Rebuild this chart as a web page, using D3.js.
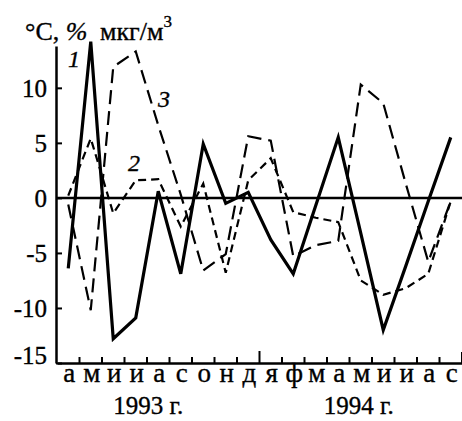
<!DOCTYPE html>
<html>
<head>
<meta charset="utf-8">
<script src="https://cdn.jsdelivr.net/npm/d3@7"></script>
<style>
  body { margin: 0; background: #fff; }
  svg text { stroke: #000; stroke-width: 0.35px; }
</style>
</head>
<body>
<svg id="chart" width="462" height="421" font-family="Liberation Serif, Times New Roman, serif"></svg>
<script>
// months from April 1993 to September 1994
const months = ["а","м","и","и","а","с","о","н","д","я","ф","м","а","м","и","и","а","с"];
const years = ["1993 г.", "1994 г."];
const yTicks = [10, 5, 0, -5, -10, -15];

// 1 - solid, 2 - short dashes, 3 - long dashes
const series1 = [-6.4, 14.2, -12.8, -10.9, 0.6, -6.9, 4.9, -0.5, 0.5, -3.8, -6.9, -0.7, 5.5, -3.2, -12.0, -6.2, -0.3, 5.5];
const series2 = [0.2, 5.4, -1.4, 1.6, 1.7, -2.6, 1.3, -6.8, 1.6, 3.6, -1.3, -1.8, -2.2, -7.5, -8.8, -8.2, -6.9, -0.3];
const series3 = [-0.6, -10.2, 11.9, 13.3, 6.6, 0.3, -6.6, -5.1, 5.6, 5.2, -5.3, -4.3, -3.9, 10.3, 8.6, 1.3, -5.8, -0.3];

const FONT = "Liberation Serif, Times New Roman, serif";
const svg = d3.select("#chart");

const x = d3.scaleBand()
    .domain(d3.range(months.length))
    .range([57, 462]);

const y = d3.scaleLinear()
    .domain([-15, 13.8])
    .range([363, 46]);

const cx = i => x(i) + x.bandwidth() / 2;

// y axis, ticks pointing inside
const yAxis = d3.axisLeft(y)
    .tickValues(yTicks)
    .tickSizeInner(-6)
    .tickSizeOuter(0)
    .tickPadding(9)
    .tickFormat(d => String(d));

const gy = svg.append("g")
    .attr("transform", "translate(56,0)")
    .call(yAxis)
    .attr("font-family", FONT)
    .attr("font-size", 25);
gy.select(".domain").attr("stroke-width", 2.5);
gy.selectAll(".tick line").attr("stroke-width", 2);
gy.selectAll(".tick text")
    .attr("dy", d => d === -15 ? "0em" : "0.34em");

// x axis: month letters at band centres
const xAxis = d3.axisBottom(x)
    .tickSizeInner(0)
    .tickSizeOuter(0)
    .tickPadding(5)
    .tickFormat(i => months[i]);

const gx = svg.append("g")
    .attr("transform", "translate(0,363)")
    .call(xAxis)
    .attr("font-family", FONT)
    .attr("font-size", 27);
gx.select(".domain").attr("stroke-width", 2.5);
gx.selectAll(".tick text")
    .attr("x", 1)
    .attr("dy", "0.5em");

// boundary ticks between months, taller at the year change and the end
svg.append("g")
  .selectAll("line")
  .data(d3.range(1, months.length + 1))
  .join("line")
    .attr("x1", i => x(i - 1) + x.bandwidth())
    .attr("x2", i => x(i - 1) + x.bandwidth())
    .attr("y1", y(-15))
    .attr("y2", i => y(-15) - (i === 9 ? 12 : i === months.length ? 11 : 6))
    .attr("stroke", "#000")
    .attr("stroke-width", 2);

// year captions
svg.append("g")
  .selectAll("text")
  .data(years)
  .join("text")
    .attr("x", (d, i) => i === 0 ? cx(4) - 10 : cx(13) - 2)
    .attr("y", 414)
    .attr("text-anchor", "middle")
    .attr("font-size", 25)
    .text(d => d);

// zero line
svg.append("line")
    .attr("x1", 56)
    .attr("x2", 462)
    .attr("y1", y(0))
    .attr("y2", y(0))
    .attr("stroke", "#000")
    .attr("stroke-width", 2.5);

const line = d3.line()
    .x((d, i) => cx(i))
    .y(d => y(d));

svg.append("path")
    .datum(series3)
    .attr("d", line)
    .attr("fill", "none")
    .attr("stroke", "#000")
    .attr("stroke-width", 2.2)
    .attr("stroke-dasharray", "14,7");

svg.append("path")
    .datum(series2)
    .attr("d", line)
    .attr("fill", "none")
    .attr("stroke", "#000")
    .attr("stroke-width", 2.2)
    .attr("stroke-dasharray", "8,5");

svg.append("path")
    .datum(series1)
    .attr("d", line)
    .attr("fill", "none")
    .attr("stroke", "#000")
    .attr("stroke-width", 3.2)
    .attr("stroke-linejoin", "miter");

// units at the top
const title = svg.append("text")
    .attr("y", 40)
    .attr("font-size", 26);
title.append("tspan").attr("x", 25).text("°C, ");
title.append("tspan").attr("font-style", "italic").text("%");
title.append("tspan").attr("x", 100).text("мкг/м");
title.append("tspan").attr("dy", -13).attr("font-size", 17).text("3");

// curve numbers
svg.append("g")
  .selectAll("text")
  .data([["1", 68, 67], ["2", 128, 171], ["3", 158, 107]])
  .join("text")
    .attr("x", d => d[1])
    .attr("y", d => d[2])
    .attr("font-size", 24)
    .attr("font-style", "italic")
    .text(d => d[0]);
</script>
</body>
</html>
